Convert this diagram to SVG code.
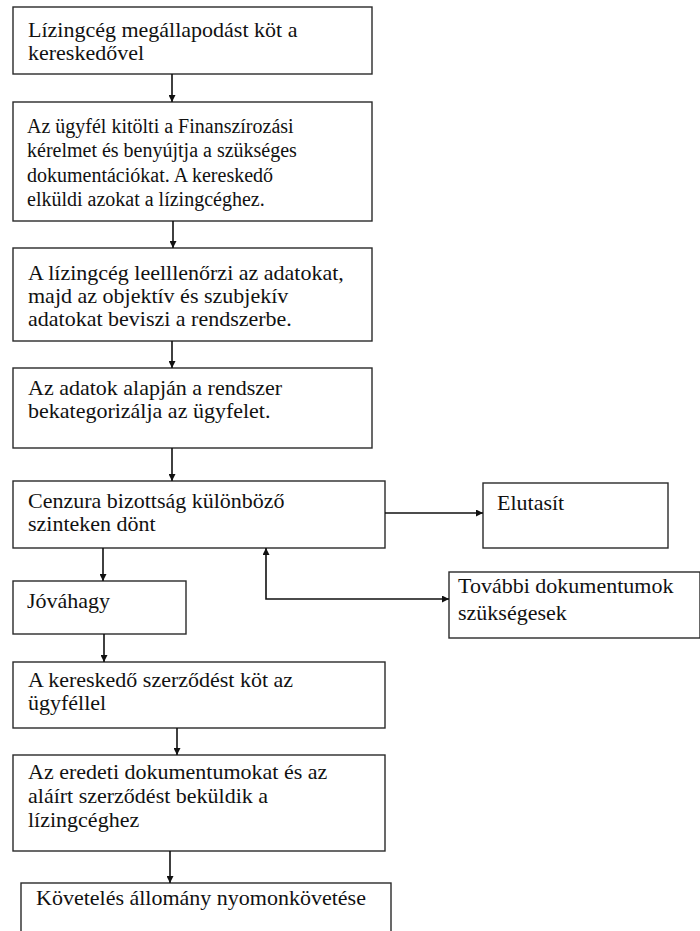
<svg xmlns="http://www.w3.org/2000/svg" width="700" height="931" viewBox="0 0 700 931">
<style>
  .box { fill: #ffffff; stroke: #2a2a2a; stroke-width: 1.4; }
  .t { font-family: "Liberation Serif", "Times New Roman", "DejaVu Serif", serif; font-size: 22px; fill: #111111; }
  .s { font-size: 20px; }
  .c { fill: none; stroke: #111111; stroke-width: 1.6; }
</style>
<defs>
  <marker id="ah" viewBox="0 0 10 10" refX="10" refY="5" markerUnits="userSpaceOnUse" markerWidth="7" markerHeight="7" orient="auto-start-reverse">
    <path d="M0,0 L10,5 L0,10 z" fill="#111111"/>
  </marker>
</defs>
<rect width="700" height="931" fill="#ffffff"/>

<g id="n1">
  <rect class="box" x="13" y="7" width="359" height="67"/>
  <text class="t" x="28" y="37">Lízingcég megállapodást köt a</text>
  <text class="t" x="28" y="60">kereskedővel</text>
</g>
<g id="n2">
  <rect class="box" x="13" y="102" width="359" height="119"/>
  <text class="t s" x="27" y="133">Az ügyfél kitölti a Finanszírozási</text>
  <text class="t s" x="27" y="157">kérelmet és benyújtja a szükséges</text>
  <text class="t s" x="27" y="182">dokumentációkat. A kereskedő</text>
  <text class="t s" x="27" y="206">elküldi azokat a lízingcéghez.</text>
</g>
<g id="n3">
  <rect class="box" x="13" y="248" width="359" height="93"/>
  <text class="t" x="28" y="280">A lízingcég leelllenőrzi az adatokat,</text>
  <text class="t" x="28" y="303">majd az objektív és szubjekív</text>
  <text class="t" x="28" y="326">adatokat beviszi a rendszerbe.</text>
</g>
<g id="n4">
  <rect class="box" x="13" y="368" width="359" height="80"/>
  <text class="t" x="28" y="395">Az adatok alapján a rendszer</text>
  <text class="t" x="28" y="418">bekategorizálja az ügyfelet.</text>
</g>
<g id="n5">
  <rect class="box" x="13" y="481" width="372" height="67"/>
  <text class="t" x="28" y="508">Cenzura bizottság különböző</text>
  <text class="t" x="28" y="531">szinteken dönt</text>
</g>
<g id="n6">
  <rect class="box" x="483" y="483" width="185" height="65"/>
  <text class="t" x="497" y="510">Elutasít</text>
</g>
<g id="n7">
  <rect class="box" x="13" y="581" width="173" height="53"/>
  <text class="t" x="27" y="608">Jóváhagy</text>
</g>
<g id="n8">
  <rect class="box" x="449" y="572" width="251" height="66"/>
  <text class="t" x="458" y="593">További dokumentumok</text>
  <text class="t" x="458" y="620">szükségesek</text>
</g>
<g id="n9">
  <rect class="box" x="13" y="662" width="372" height="66"/>
  <text class="t" x="28" y="687">A kereskedő szerződést köt az</text>
  <text class="t" x="28" y="710">ügyféllel</text>
</g>
<g id="n10">
  <rect class="box" x="13" y="755" width="372" height="96"/>
  <text class="t" x="28" y="779">Az eredeti dokumentumokat és az</text>
  <text class="t" x="28" y="803">aláírt szerződést beküldik a</text>
  <text class="t" x="28" y="827">lízingcéghez</text>
</g>
<g id="n11">
  <rect class="box" x="21" y="883" width="370" height="62"/>
  <text class="t" x="36" y="905">Követelés állomány nyomonkövetése</text>
</g>

<g id="connectors">
  <line class="c" x1="172" y1="74" x2="172" y2="102" marker-end="url(#ah)"/>
  <line class="c" x1="173" y1="221" x2="173" y2="248" marker-end="url(#ah)"/>
  <line class="c" x1="172" y1="341" x2="172" y2="368" marker-end="url(#ah)"/>
  <line class="c" x1="172" y1="448" x2="172" y2="481" marker-end="url(#ah)"/>
  <line class="c" x1="385" y1="513" x2="483" y2="513" marker-end="url(#ah)"/>
  <line class="c" x1="103" y1="548" x2="103" y2="581" marker-end="url(#ah)"/>
  <polyline class="c" points="266,548 266,599 449,599" marker-start="url(#ah)" marker-end="url(#ah)"/>
  <line class="c" x1="104" y1="634" x2="104" y2="662" marker-end="url(#ah)"/>
  <line class="c" x1="177" y1="728" x2="177" y2="755" marker-end="url(#ah)"/>
  <line class="c" x1="170" y1="851" x2="170" y2="883" marker-end="url(#ah)"/>
</g>
</svg>
